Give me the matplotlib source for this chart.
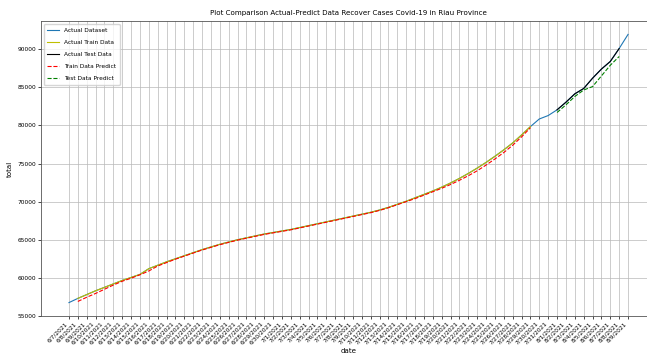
import matplotlib
matplotlib.use("Agg")
import matplotlib.pyplot as plt
import datetime as dt

# daily recovered totals, Riau
start = dt.date(2021, 6, 7)
dates = [(start + dt.timedelta(days=i)) for i in range(64)]
date_labels = ["%d/%d/%d" % (d.month, d.day, d.year) for d in dates]

actual = [
    56750, 57300, 57800, 58300, 58750, 59200, 59650, 60050, 60450, 61200,
    61650, 62100, 62500, 62900, 63300, 63700, 64050, 64400, 64700, 65000,
    65250, 65500, 65750, 65950, 66150, 66350, 66600, 66850, 67100, 67350,
    67600, 67850, 68100, 68350, 68600, 68900, 69250, 69650, 70050, 70500,
    70950, 71400, 71900, 72450, 73050, 73700, 74400, 75150, 75950, 76800,
    77700, 78750, 79850, 80850, 81300, 82050, 83050, 84150, 84850, 86200,
    87400, 88400, 90100, 91950,
]

train_idx = list(range(1, 53))
test_idx = list(range(55, 63))

train_pred = [
    56900, 57450, 57950, 58500, 59050, 59550, 59950, 60400, 60900, 61550,
    62000, 62450, 62850, 63250, 63650, 64000, 64350, 64650, 64950, 65200,
    65450, 65700, 65900, 66100, 66300, 66550, 66800, 67050, 67300, 67550,
    67800, 68050, 68300, 68550, 68850, 69200, 69600, 70000, 70400, 70850,
    71300, 71750, 72250, 72800, 73400, 74050, 74800, 75600, 76450, 77400,
    78500, 79700,
]
test_pred = [81700, 82700, 83800, 84650, 85100, 86500, 87900, 89050]

TITLE_FS = 5.1
FS = 4.25


def main():
    fig = plt.figure(figsize=(6.47, 3.64), dpi=100)
    ax = fig.add_axes([41 / 647, 48 / 364, 615 / 647, 295 / 364])

    ax.plot(date_labels, actual, color="#1f77b4", lw=0.8, label="Actual Dataset")
    ax.plot([date_labels[i] for i in train_idx], [actual[i] for i in train_idx],
            color="y", lw=0.8, label="Actual Train Data")
    ax.plot([date_labels[i] for i in test_idx], [actual[i] for i in test_idx],
            color="k", lw=0.8, label="Actual Test Data")
    ax.plot([date_labels[i] for i in train_idx], train_pred, "r--", lw=0.8,
            label="Train Data Predict")
    ax.plot([date_labels[i] for i in test_idx], test_pred, "g--", lw=0.8,
            label="Test Data Predict")

    ax.grid(True, color="#b8b8b8", lw=0.5)
    ax.set_title("Plot Comparison Actual-Predict Data Recover Cases Covid-19 in Riau Province",
                 fontsize=TITLE_FS, pad=4)
    ax.set_xlabel("date", fontsize=TITLE_FS, labelpad=2)
    ax.set_ylabel("total", fontsize=TITLE_FS, labelpad=3)
    plt.setp(ax.get_xticklabels(), rotation=45, ha="right", fontsize=FS)
    plt.setp(ax.get_yticklabels(), fontsize=FS)
    ax.tick_params(length=2, width=0.5, pad=1.5)
    for s in ax.spines.values():
        s.set_linewidth(0.6)
        s.set_color("#555555")

    ax.legend(loc="upper left", fontsize=FS, handlelength=2, borderpad=0.6,
              labelspacing=1.2, framealpha=0.8)

    fig.savefig("out.png", dpi=100)


if __name__ == "__main__":
    main()
